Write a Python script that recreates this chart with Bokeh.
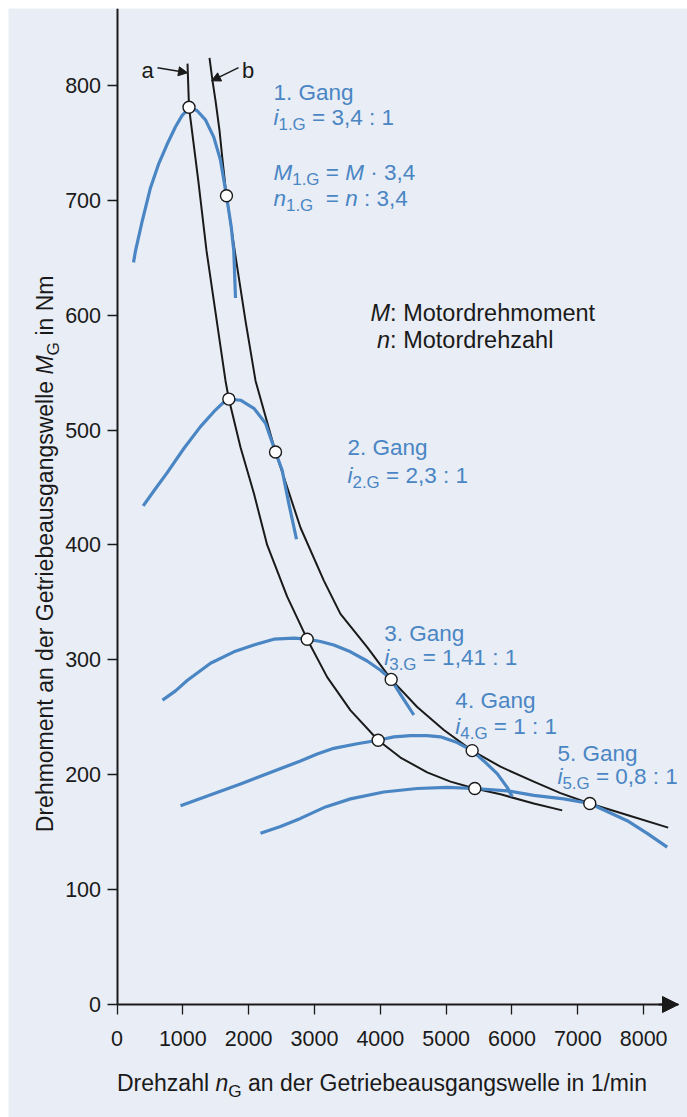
import math
from bokeh.plotting import figure
from bokeh.models import Range1d, FixedTicker, Label, Arrow, NormalHead, LinearAxis
from bokeh.embed import file_html
from bokeh.resources import INLINE

# ---------------- data ----------------
x_ticks = [0, 1000, 2000, 3000, 4000, 5000, 6000, 7000, 8000]
y_ticks = [0, 100, 200, 300, 400, 500, 600, 700, 800]

gear1_n = [251, 281, 383, 509, 635, 763, 889, 990, 1106, 1218, 1344, 1470, 1572, 1663, 1735, 1774, 1800]
gear1_m = [646, 656, 682, 711, 732, 749, 764, 774, 781, 778, 770, 755, 735, 704, 677, 656, 615]

gear2_n = [398, 559, 763, 1015, 1268, 1471, 1598, 1699, 1876, 2079, 2256, 2408, 2509, 2610, 2727]
gear2_m = [434, 447, 463, 484, 503, 516, 523, 527, 526, 519, 506, 481, 465, 436, 405]

gear3_n = [691, 889, 1066, 1420, 1775, 2079, 2382, 2686, 2889, 3091, 3293, 3547, 3800, 4003, 4165, 4306, 4509]
gear3_m = [265, 273, 282, 297, 307, 313, 318, 319, 318, 316, 313, 307, 299, 291, 283, 270, 252]

gear4_n = [965, 1876, 2787, 3041, 3293, 3649, 3967, 4205, 4459, 4712, 4914, 5168, 5395, 5572, 5775, 5927, 6003]
gear4_m = [173, 192, 212, 218, 223, 227, 230, 233, 234, 234, 233, 228, 221, 212, 201, 189, 181]

gear5_n = [2180, 2484, 2787, 3167, 3547, 4053, 4560, 5016, 5435, 5927, 6331, 6787, 7182, 7446, 7750, 8054, 8358]
gear5_m = [149, 155, 162, 172, 179, 185, 188, 189, 188, 186, 182, 179, 175, 168, 160, 149, 137]

curve_a_n = [1071, 1094, 1233, 1360, 1648, 1699, 1876, 2079, 2281, 2585, 2889, 3193, 3547, 3967, 4306, 4712, 5066, 5435, 5825, 6331, 6763]
curve_a_m = [819, 781, 718, 656, 543, 527, 485, 445, 400, 355, 318, 285, 256, 230, 215, 202, 194, 188, 183, 175, 169]

curve_b_n = [1405, 1451, 1496, 1557, 1603, 1663, 1815, 1952, 2104, 2408, 2788, 3142, 3394, 3800, 4165, 4560, 4965, 5395, 5825, 6331, 6737, 7182, 7750, 8373]
curve_b_m = [824, 804, 787, 761, 735, 704, 646, 595, 543, 481, 415, 369, 340, 311, 283, 259, 239, 221, 207, 194, 184, 175, 165, 154]

mark_n = [1094, 1699, 2889, 3967, 5435, 1663, 2408, 4165, 5395, 7182]
mark_m = [781, 527, 318, 230, 188, 704, 481, 283, 221, 175]

# ---------------- layout / styling ----------------
FONT = "Liberation Sans"
BG = "#e9edf5"
BLUE = "#4a86c4"
INK = "#1a1a1a"

W_FIG, H_FIG = 687, 1117
PAD_L, PAD_T = 8, 8            # white strip left / top
X0_PX, Y0_PX = 116.5, 1004.0   # pixel position of the origin
KX, KY = 0.06583, 1.1488       # pixels per data unit
X_TIP = 8530                   # end of x axis arrow
x_start = (PAD_L - X0_PX) / KX
x_end = (W_FIG - X0_PX) / KX
y_end = (Y0_PX - PAD_T) / KY
y_start = (Y0_PX - H_FIG) / KY

p = figure(width=W_FIG, height=H_FIG, output_backend="svg", toolbar_location=None,
           x_range=Range1d(x_start, x_end), y_range=Range1d(y_start, y_end),
           x_axis_location=None, y_axis_location=None,
           min_border_left=PAD_L, min_border_top=PAD_T,
           min_border_right=0, min_border_bottom=0)
p.background_fill_color = BG
p.border_fill_color = "white"
p.outline_line_color = None
p.grid.visible = False

xaxis = LinearAxis(fixed_location=0, bounds=(0, X_TIP))
yaxis = LinearAxis(fixed_location=0, bounds=(0, y_end))
for ax, ticks in ((xaxis, x_ticks), (yaxis, y_ticks)):
    ax.ticker = FixedTicker(ticks=ticks)
    ax.minor_tick_line_color = None
    ax.axis_line_width = 2
    ax.axis_line_color = INK
    ax.major_tick_line_color = INK
    ax.major_tick_line_width = 1.3
    ax.major_tick_in = 0
    ax.major_tick_out = 10
    ax.major_label_text_font = FONT
    ax.major_label_text_font_size = "21.5px"
    ax.major_label_text_color = INK
xaxis.major_label_standoff = 16
yaxis.major_label_standoff = 6
p.add_layout(xaxis, "below")
p.add_layout(yaxis, "left")

# x-axis arrow head
p.add_layout(Arrow(end=NormalHead(size=16, fill_color=INK, line_color=INK),
                   x_start=X_TIP - 300, y_start=0, x_end=X_TIP, y_end=0,
                   line_width=2, line_color=INK))

# black curves a / b
p.line(curve_a_n, curve_a_m, line_color=INK, line_width=2, line_join="round")
p.line(curve_b_n, curve_b_m, line_color=INK, line_width=2, line_join="round")

# blue gear curves
for gn, gm in ((gear1_n, gear1_m), (gear2_n, gear2_m), (gear3_n, gear3_m),
               (gear4_n, gear4_m), (gear5_n, gear5_m)):
    p.line(gn, gm, line_color=BLUE, line_width=3.2, line_join="round", line_cap="butt")

p.scatter(mark_n, mark_m, marker="circle", size=12, fill_color="white",
          line_color=INK, line_width=1.4)

# ---------------- text helpers ----------------
WID = {' ': 278, ',': 278, '.': 278, ':': 278, '/': 278, '=': 584, '\u00b7': 278,
       'D': 722, 'G': 778, 'M': 833, 'N': 722,
       'a': 556, 'b': 556, 'd': 556, 'e': 556, 'g': 556, 'h': 556, 'i': 222,
       'l': 222, 'm': 833, 'n': 556, 'o': 556, 'r': 333, 's': 500, 't': 278,
       'u': 556, 'w': 722, 'z': 500}


def tw(s, size):
    return sum(WID.get(c, 556) for c in s) * size / 1000.0


def rich(x, y, segs, size, color, angle=0.0, sub_scale=0.75, sub_shift=0.32):
    off = 0.0
    for t, style, sub in segs:
        fs = size * sub_scale if sub else size
        dy = -sub_shift * size if sub else 0.0
        lead = len(t) - len(t.lstrip(' '))
        off += tw(' ' * lead, fs)
        core = t.strip(' ')
        if core:
            if angle == 0:
                lx, ly = x + off / KX, y + dy / KY
            else:
                lx, ly = x - dy / KX, y + off / KY
            p.add_layout(Label(x=lx, y=ly, text=core, text_font=FONT,
                               text_font_size=f"{fs:.2f}px", text_font_style=style,
                               text_color=color, text_baseline="alphabetic",
                               text_align="left", angle=angle))
        off += tw(t.lstrip(' '), fs)
    return off


BS = 22.5
# 1st gear block
rich(2378, 794, [("1. Gang", "normal", False)], BS, BLUE)
rich(2378, 772, [("i", "italic", False), ("1.G", "normal", True), (" = 3,4 : 1", "normal", False)], BS, BLUE)
wM = tw("M", BS) + tw("1.G", BS * 0.75)
rich(2378, 724, [("M", "italic", False), ("1.G", "normal", True), (" = ", "normal", False),
                 ("M", "italic", False), (" \u00b7 3,4", "normal", False)], BS, BLUE)
rich(2378, 702, [("n", "italic", False), ("1.G", "normal", True)], BS, BLUE)
# "=" of the n-line aligned with the "=" of the M-line
rich(2378 + (wM + tw(" ", BS)) / KX, 702, [("= ", "normal", False), ("n", "italic", False),
                                          (" : 3,4", "normal", False)], BS, BLUE)

# legend for M / n
LS = 23.5
rich(3851, 601.5, [("M", "italic", False), (": Motordrehmoment", "normal", False)], LS, INK)
rich(3851 + (tw("M", LS) - tw("n", LS)) / KX, 578, [("n", "italic", False), (": Motordrehzahl", "normal", False)], LS, INK)

# gears 2..5
gear_labels = [
    (3502, 485, 460.5, "2. Gang", "2.G", " = 2,3 : 1"),
    (4060, 323, 302, "3. Gang", "3.G", " = 1,41 : 1"),
    (5140, 264.5, 242, "4. Gang", "4.G", " = 1 : 1"),
    (6691, 218.5, 198.5, "5. Gang", "5.G", " = 0,8 : 1"),
]
for gx, gy1, gy2, t1, sub, t2 in gear_labels:
    rich(gx, gy1, [(t1, "normal", False)], BS, BLUE)
    rich(gx, gy2, [("i", "italic", False), (sub, "normal", True), (t2, "normal", False)], BS, BLUE)

# a / b markers
rich(372, 813, [("a", "normal", False)], 22, INK)
rich(1899, 813, [("b", "normal", False)], 22, INK)
p.add_layout(Arrow(end=NormalHead(size=9, fill_color=INK, line_color=INK),
                   x_start=615, y_start=815.5, x_end=1071, y_end=811, line_width=1.5, line_color=INK))
p.add_layout(Arrow(end=NormalHead(size=9, fill_color=INK, line_color=INK),
                   x_start=1846, y_start=815.5, x_end=1436, y_end=804, line_width=1.5, line_color=INK))

# axis titles
AS = 23
rich(0, -68.5, [("Drehzahl ", "normal", False), ("n", "italic", False), ("G", "normal", True),
                (" an der Getriebeausgangswelle in 1/min", "normal", False)], AS, INK)
rich(-1090, 150, [("Drehmoment an der Getriebeausgangswelle ", "normal", False), ("M", "italic", False),
                  ("G", "normal", True), (" in Nm", "normal", False)], AS, INK, angle=math.pi / 2)

open("out.html", "w").write(file_html(p, INLINE))
